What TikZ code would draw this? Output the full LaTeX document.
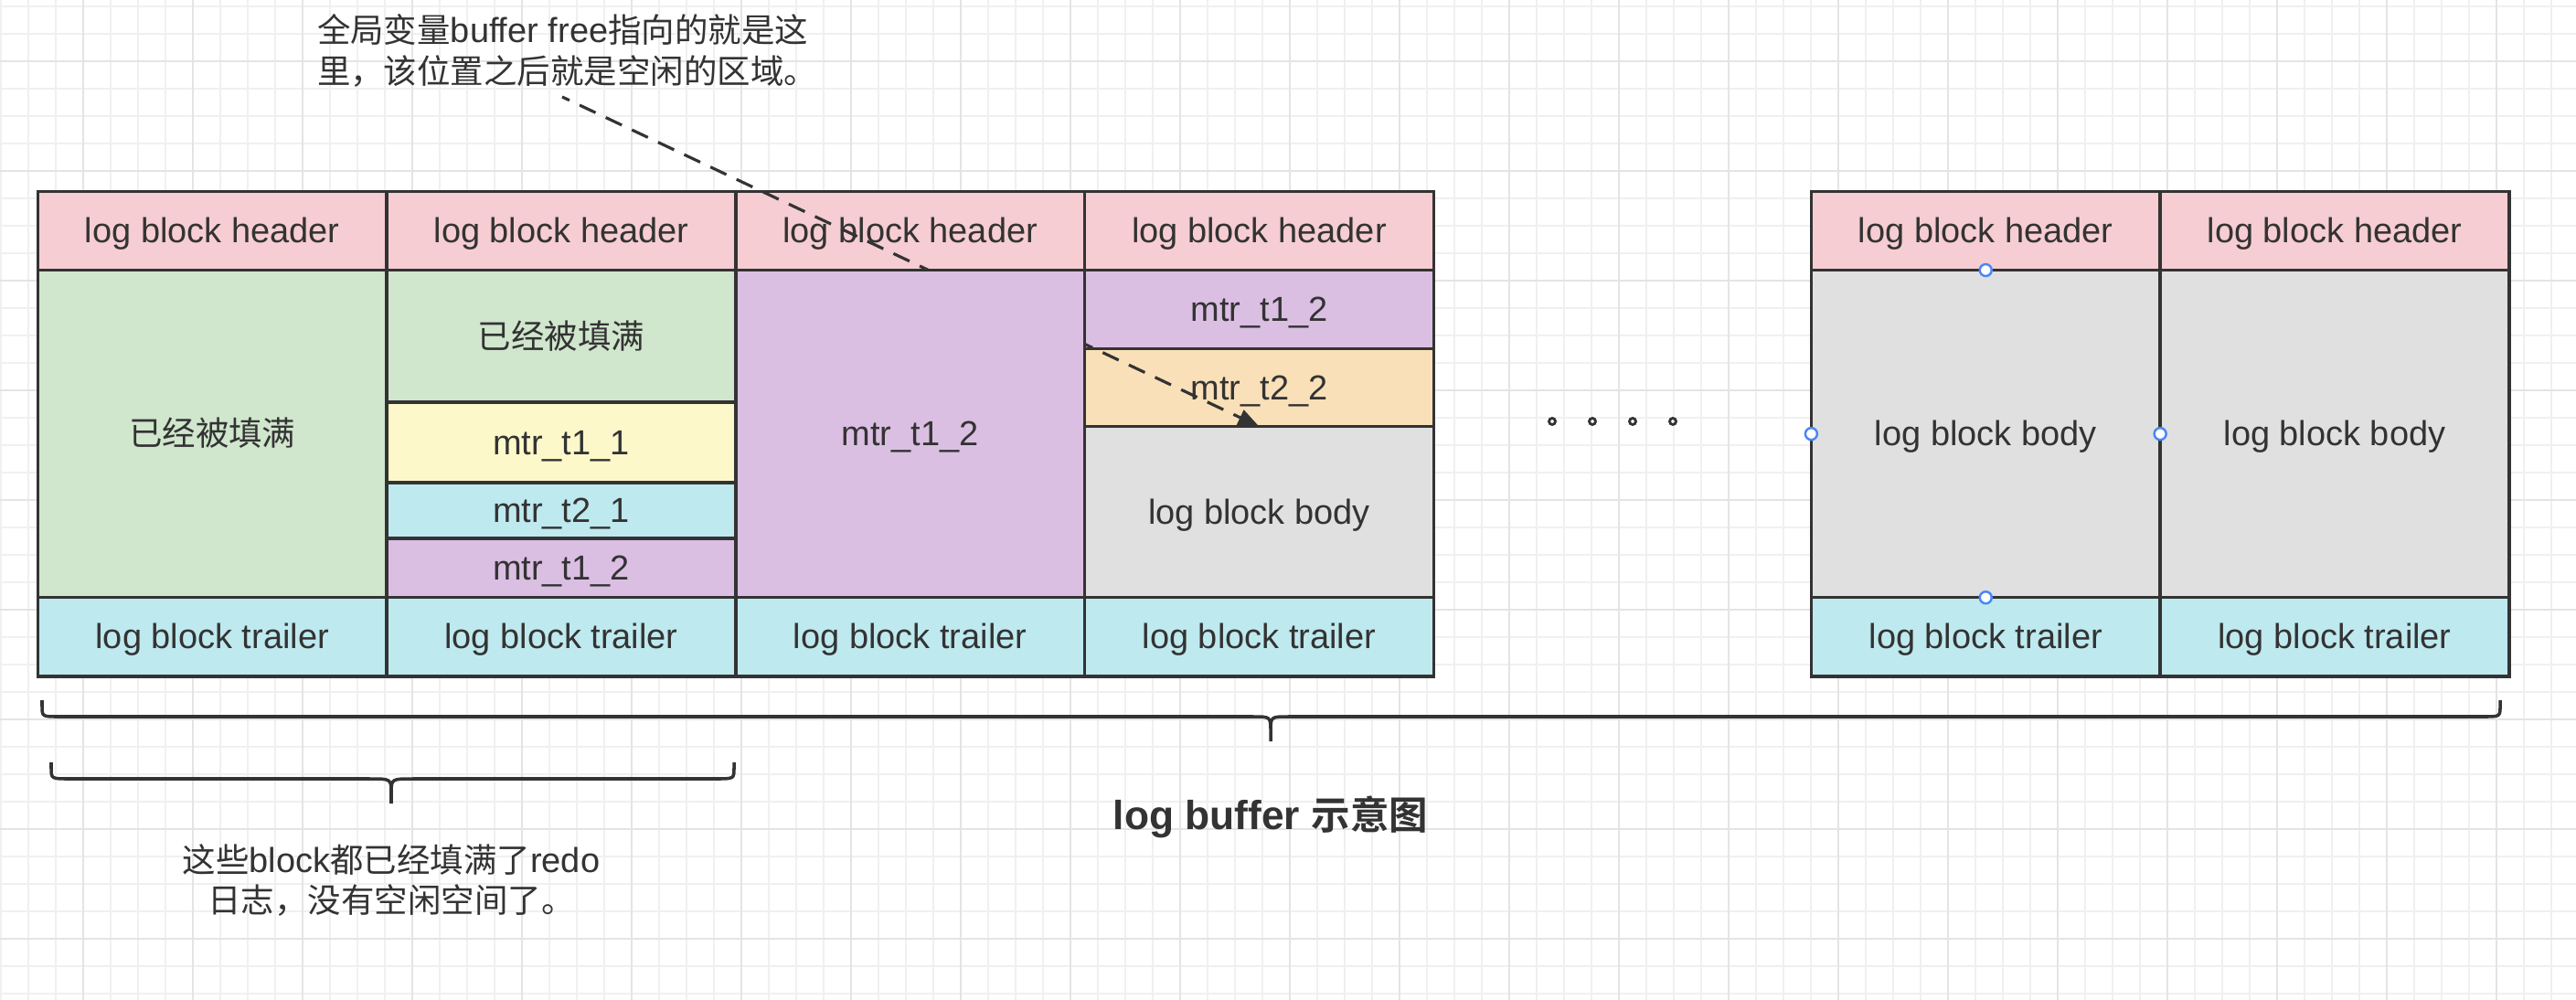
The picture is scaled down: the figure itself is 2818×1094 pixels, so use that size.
\documentclass[tikz,border=0pt]{standalone}
\usepackage{fontspec}
\setmainfont{Liberation Sans}
\newfontfamily\cjk[Scale=0.96, BoldFont={Noto Sans CJK SC Bold}]{Noto Sans CJK SC}
\usetikzlibrary{arrows.meta, positioning}

\definecolor{linecol}{HTML}{333333}
\definecolor{txtcol}{HTML}{333333}
\definecolor{hdrpink}{HTML}{F6CDD2}
\definecolor{fullgreen}{HTML}{D0E6CD}
\definecolor{lemon}{HTML}{FDF8CA}
\definecolor{trlcyan}{HTML}{BEE9EF}
\definecolor{lilac}{HTML}{DBBFE3}
\definecolor{peach}{HTML}{FAE0B8}
\definecolor{freegray}{HTML}{E0E0E0}
\definecolor{gridminor}{HTML}{F0F0F0}
\definecolor{gridmajor}{HTML}{E4E4E4}
\definecolor{handleblue}{HTML}{4A86F7}

\pgfdeclarelayer{front}
\pgfsetlayers{main,front}

\begin{document}
\begin{tikzpicture}[
        x=0.01cm, y=-0.01cm,
        % Global Styles
        cell/.style={rectangle, draw=linecol, line width=1pt, outer sep=0pt, inner sep=0pt, minimum width=3.815cm, text height=0.95em, text depth=0.2em, text=txtcol, font=\fontsize{10.8}{13}\selectfont},
        header/.style={cell, fill=hdrpink, minimum height=0.86cm},
        trailer/.style={cell, fill=trlcyan, minimum height=0.86cm},
        filled/.style={cell, fill=fullgreen},
        tone/.style={cell, fill=lemon},  % mtr_t1_1
        ttwo/.style={cell, fill=trlcyan}, % mtr_t2_1
        tlilac/.style={cell, fill=lilac}, % mtr_t1_2
        tpeach/.style={cell, fill=peach}, % mtr_t2_2
        emptybody/.style={cell, fill=freegray},
        note/.style={text=txtcol, inner sep=0pt, font=\fontsize{10.8}{12.7}\selectfont},
        bigtitle/.style={text=txtcol, inner sep=0pt, font=\bfseries\fontsize{12.6}{15}\selectfont},
        dotmark/.style={circle, draw=linecol, line width=0.8pt, minimum size=0.07cm, inner sep=0pt},
        handle/.style={circle, draw=handleblue, fill=white, line width=0.7pt, minimum size=0.13cm, inner sep=0pt},
        pointer/.style={draw=linecol, line width=0.9pt, dash pattern=on 5.5pt off 3.5pt, dash phase=3pt, -{Triangle[length=0.23cm, width=0.18cm]}},
        curly/.style={draw=linecol, line width=1pt}
    ]

    % --- Canvas and grid ---
    \fill[white] (0,0) rectangle (2818,1094);
    \useasboundingbox (0,0) rectangle (2818,1094);
    \foreach \i in {0,...,93} \draw[gridminor, line width=0.5pt] ({30*\i+0.7},0) -- ({30*\i+0.7},1094);
    \foreach \i in {0,...,36} \draw[gridminor, line width=0.5pt] (0,{30*\i+6.7}) -- (2818,{30*\i+6.7});
    \foreach \i in {0,...,23} \draw[gridmajor, line width=0.6pt] ({120*\i+90.7},0) -- ({120*\i+90.7},1094);
    \foreach \i in {0,...,8} \draw[gridmajor, line width=0.6pt] (0,{120*\i+66.7}) -- (2818,{120*\i+66.7});

    % --- Headers ---
    \node [header] (h1) at (232.25,252.5) {log block header};
    \node [header, right=0pt of h1] (h2) {log block header};
    \node [header, right=0pt of h2] (h3) {log block header};
    \node [header, right=0pt of h3] (h4) {log block header};
    \node [header] (h5) at (2172.25,252.5) {log block header};
    \node [header, right=0pt of h5] (h6) {log block header};

    % --- Bodies ---
    % 1. full block
    \node [filled, minimum height=3.58cm, below=0pt of h1] (b1) {\cjk 已经被填满};

    % 2. full block with mtr pieces
    \node [filled, minimum height=1.445cm, below=0pt of h2] (b2a) {\cjk 已经被填满};
    \node [tone, minimum height=0.88cm, below=0pt of b2a] (b2b) {mtr\_t1\_1};
    \node [ttwo, minimum height=0.61cm, below=0pt of b2b] (b2c) {mtr\_t2\_1};
    \node [tlilac, minimum height=0.645cm, below=0pt of b2c] (b2d) {mtr\_t1\_2};

    % 3. one big mtr (kept above the pointer)
    \begin{pgfonlayer}{front}
        \node [tlilac, minimum height=3.58cm, below=0pt of h3] (b3) {mtr\_t1\_2};
    \end{pgfonlayer}

    % 4. current block
    \node [tlilac, minimum height=0.86cm, below=0pt of h4] (b4a) {mtr\_t1\_2};
    \node [tpeach, minimum height=0.85cm, below=0pt of b4a] (b4b) {mtr\_t2\_2};
    \node [emptybody, minimum height=1.87cm, below=0pt of b4b] (b4c) {log block body};

    % 5./6. empty blocks
    \node [emptybody, minimum height=3.58cm, below=0pt of h5] (b5) {log block body};
    \node [emptybody, minimum height=3.58cm, below=0pt of h6] (b6) {log block body};

    % --- Trailers ---
    \node [trailer, below=0pt of b1] (t1) {log block trailer};
    \node [trailer, below=0pt of b2d] (t2) {log block trailer};
    \node [trailer, below=0pt of b3] (t3) {log block trailer};
    \node [trailer, below=0pt of b4c] (t4) {log block trailer};
    \node [trailer, below=0pt of b5] (t5) {log block trailer};
    \node [trailer, below=0pt of b6] (t6) {log block trailer};

    % --- Gap dots ---
    \foreach \x [count=\k] in {1698,1742,1786,1830}
        \node [dotmark] (dot\k) at (\x,461) {};

    % --- Selection handles ---
    \begin{pgfonlayer}{front}
        \node [handle] at (b5.north) {};
        \node [handle] at (b5.west) {};
        \node [handle] at (b5.east) {};
        \node [handle] at (b5.south) {};
    \end{pgfonlayer}

    % --- Notes ---
    \node [note, align=left] (freenote) at (620.5,55.5) {{\cjk 全局变量}buffer free{\cjk 指向的就是这}\\{\cjk 里，该位置之后就是空闲的区域。}};
    \coordinate (freeptr) at (615,106);
    \draw [pointer] (freeptr) -- (b4c.north);

    \node [note, align=center] (fullnote) at (428,963) {{\cjk 这些}block{\cjk 都已经填满了}redo\\{\cjk 日志，没有空闲空间了。}};
    \node [bigtitle] (caption) at (1390,894) {log buffer {\cjk 示意图}};

    % --- Braces ---
    \draw [curly] (46,766) -- (46,772) .. controls (46,784) .. (64,784) -- (1370,784) .. controls (1390,784) .. (1390,800) -- (1390,811)
        (1390,800) .. controls (1390,784) .. (1410,784) -- (2717,784) .. controls (2735,784) .. (2735,772) -- (2735,766);
    \draw [curly] (56,834) -- (56,840) .. controls (56,852) .. (76,852) -- (404,852) .. controls (428,852) .. (428,868) -- (428,879)
        (428,868) .. controls (428,852) .. (452,852) -- (783,852) .. controls (803,852) .. (803,840) -- (803,834);

\end{tikzpicture}
\end{document}
